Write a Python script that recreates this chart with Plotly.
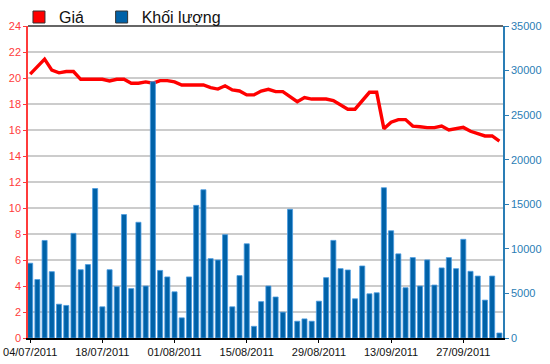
import plotly.graph_objects as go

dates = [
    "04/07/2011", "05/07/2011", "06/07/2011", "07/07/2011", "08/07/2011",
    "11/07/2011", "12/07/2011", "13/07/2011", "14/07/2011", "15/07/2011",
    "18/07/2011", "19/07/2011", "20/07/2011", "21/07/2011", "22/07/2011",
    "25/07/2011", "26/07/2011", "27/07/2011", "28/07/2011", "29/07/2011",
    "01/08/2011", "02/08/2011", "03/08/2011", "04/08/2011", "05/08/2011",
    "08/08/2011", "09/08/2011", "10/08/2011", "11/08/2011", "12/08/2011",
    "15/08/2011", "16/08/2011", "17/08/2011", "18/08/2011", "19/08/2011",
    "22/08/2011", "23/08/2011", "24/08/2011", "25/08/2011", "26/08/2011",
    "29/08/2011", "30/08/2011", "31/08/2011", "01/09/2011", "05/09/2011",
    "06/09/2011", "07/09/2011", "08/09/2011", "09/09/2011", "12/09/2011",
    "13/09/2011", "14/09/2011", "15/09/2011", "16/09/2011", "19/09/2011",
    "20/09/2011", "21/09/2011", "22/09/2011", "23/09/2011", "26/09/2011",
    "27/09/2011", "28/09/2011", "29/09/2011", "30/09/2011", "03/10/2011",
    "04/10/2011",
]

price = [
    20.3, 20.9, 21.45, 20.6, 20.4, 20.5, 20.5, 19.9, 19.9, 19.9,
    19.9, 19.77, 19.9, 19.9, 19.6, 19.6, 19.7, 19.6, 19.8, 19.8,
    19.7, 19.46, 19.46, 19.46, 19.46, 19.26, 19.15, 19.4, 19.08, 19.0,
    18.7, 18.7, 19.0, 19.13, 18.95, 18.95, 18.56, 18.18, 18.5, 18.38,
    18.38, 18.38, 18.26, 17.9, 17.6, 17.6, 18.3, 18.9, 18.9, 16.1,
    16.6, 16.8, 16.8, 16.3, 16.25, 16.18, 16.18, 16.3, 16.0, 16.1,
    16.2, 15.9, 15.7, 15.54, 15.54, 15.15,
]

volume = [
    8390, 6560, 10940, 7440, 3790, 3650, 11740, 7660, 8240, 16770,
    3500, 7660, 5760, 13850, 5540, 12980, 5830, 28750, 7580, 6850,
    5180, 2260, 6850, 14880, 16630, 8900, 8750, 11590, 3500, 7000,
    10570, 1310, 4080, 5830, 4600, 2900, 14440, 1880, 2140, 1880,
    4130, 6770, 10950, 7780, 7630, 4400, 8080, 4960, 5075, 16860,
    12030, 9440, 5640, 9020, 5830, 8760, 5940, 7860, 9020, 7780,
    11070, 7480, 6950, 4250, 6950, 560,
]

tick_dates = ["04/07/2011", "18/07/2011", "01/08/2011", "15/08/2011",
              "29/08/2011", "13/09/2011", "27/09/2011"]

left_ticks = list(range(0, 25, 2))
right_ticks = list(range(0, 35001, 5000))
right_labels = [str(v) for v in right_ticks]

RED = "#ff0000"
BLUE = "#0062a8"
AXRED = "#ff3b3b"
AXBLUE = "#2a7db5"

fig = go.Figure()

# legend-only entries (square symbols)
fig.add_trace(go.Bar(x=[None], y=[None], name="Giá", legend="legend",
                     marker=dict(color=RED, line=dict(color="#333333", width=1))))
fig.add_trace(go.Bar(x=[None], y=[None], name="Khối lượng", legend="legend2",
                     marker=dict(color=BLUE, line=dict(color="#333333", width=1))))

fig.add_trace(go.Bar(x=dates, y=volume, yaxis="y2", showlegend=False,
                     marker=dict(color=BLUE, line=dict(color="#4a9be0", width=0.8))))
fig.add_trace(go.Scatter(x=dates, y=price, mode="lines", showlegend=False,
                         line=dict(color=RED, width=3.4)))

legend_common = dict(orientation="h", y=0.974, xanchor="left", yanchor="bottom",
                     font=dict(size=16, color="#111111"), bgcolor="rgba(0,0,0,0)")

fig.update_layout(
    width=550, height=364,
    margin=dict(l=28, r=47, t=26, b=26, autoexpand=False),
    paper_bgcolor="white", plot_bgcolor="white",
    font=dict(family="Liberation Sans, Arial, sans-serif", size=11),
    bargap=0.3,
    barmode="overlay",
    showlegend=True,
    legend=dict(x=-0.019, **legend_common),
    legend2=dict(x=0.155, **legend_common),
    xaxis=dict(
        type="category", range=[-0.3, 65.5], automargin=False,
        tickmode="array", tickvals=tick_dates, ticktext=tick_dates,
        showgrid=False, showline=True, linecolor="#000000", linewidth=1.5,
        ticks="outside", ticklen=3, tickcolor="#000000",
        tickfont=dict(color="#111111", size=11),
        mirror=False, zeroline=False,
    ),
    yaxis=dict(
        range=[0, 24], tickvals=left_ticks, automargin=False,
        showgrid=True, gridcolor="#cccccc", gridwidth=1.5,
        showline=True, linecolor=AXRED, linewidth=1.5,
        ticks="outside", ticklen=3, tickcolor=AXRED,
        tickfont=dict(color=AXRED, size=11), zeroline=False,
    ),
    yaxis2=dict(
        range=[0, 35000], tickvals=right_ticks, ticktext=right_labels,
        overlaying="y", side="right", automargin=False,
        showgrid=False,
        showline=True, linecolor=AXBLUE, linewidth=1.5,
        ticks="outside", ticklen=4, tickcolor=AXBLUE,
        tickfont=dict(color=AXBLUE, size=11), zeroline=False,
    ),
    shapes=[dict(type="line", xref="paper", yref="paper", x0=0, x1=1, y0=1, y1=1,
                 line=dict(color="#333333", width=1.5))],
)

fig.write_html("out.html",
               config={"displayModeBar": False},
               post_script="document.body.style.margin='0px';document.body.style.overflow='hidden';")
